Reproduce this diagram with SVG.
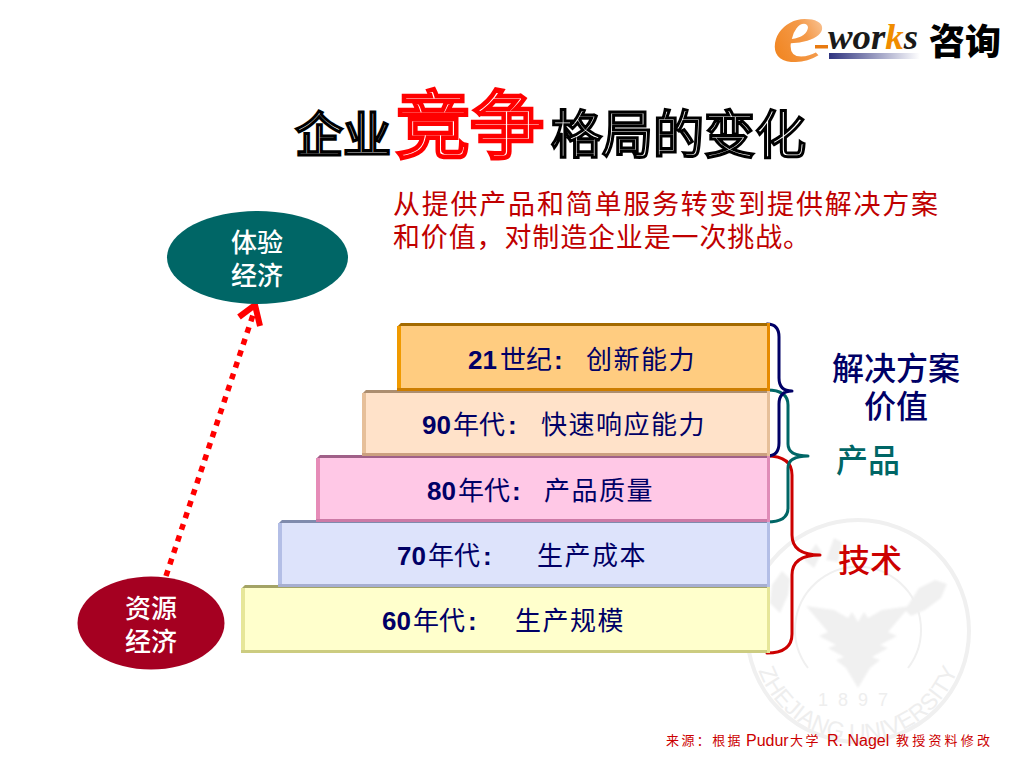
<svg xmlns="http://www.w3.org/2000/svg" width="1024" height="768" viewBox="0 0 1024 768">
<style>
text{font-family:"Noto Sans CJK SC","Liberation Sans",sans-serif}
.lat{font-family:"Liberation Sans",Arial,sans-serif;font-weight:700}
.lab{font-size:26px;fill:#000066;font-weight:400}
.wh{font-size:26px;fill:#fff;text-anchor:middle;font-weight:500}
.brace{fill:none;stroke-width:3;stroke-linecap:round;stroke-linejoin:round}
.seal{fill:none;stroke:#f0f0f0}
.sealt{fill:#eeeeee;font-family:"Liberation Sans",sans-serif}
.big{text-anchor:middle;font-size:32px;font-weight:500}
.src{font-family:"Liberation Sans",sans-serif;font-size:16px}
</style>
<defs>
<linearGradient id="bar" x1="0" x2="1" y1="0" y2="0"><stop offset="0" stop-color="#2f3480"/><stop offset="1" stop-color="#ffffff"/></linearGradient>
<linearGradient id="eg" x1="0" x2="1" y1="1" y2="0"><stop offset="0" stop-color="#f07d10"/><stop offset="0.55" stop-color="#f49a4a"/><stop offset="1" stop-color="#fde8d6"/></linearGradient>
<path id="arc" d="M755 659A106 106 0 0 0 961 659"/>
<filter id="soft" x="-10%" y="-10%" width="120%" height="120%"><feGaussianBlur stdDeviation="1.2"/></filter>
</defs>

<g id="watermark">
<circle class="seal" cx="858" cy="631" r="111" stroke-width="4"/>
<path class="seal" stroke-width="2" d="M808 668A63 63 0 1 1 908 668"/>
<g filter="url(#soft)" fill="#f0f0f0">
<path d="M858 688L846 668L836 660L844 657L828 648L836 645L819 636L828 632L806 606L834 610L848 618L852 612L858 622L864 612L868 618L882 610L910 606L888 632L897 636L880 645L888 648L872 657L880 660L870 668Z"/>
<path d="M772 585l10-14 8 8-2 16-8 18-10-10zM804 560l12-16 6 8-8 16zM826 560l8-22 8 4-4 20zM905 610l14-22 16-8 12 4-6 14-16 12-14 6z"/>
</g>
<text class="sealt" x="858" y="706" font-size="18" text-anchor="middle" letter-spacing="10">1897</text>
<text class="sealt" font-size="23"><textPath href="#arc" startOffset="50%" text-anchor="middle">ZHEJIANG UNIVERSITY</textPath></text>
</g>

<g id="logo">
<text transform="translate(772 61) scale(1.35 1)" font-size="88" font-style="italic" font-weight="700" fill="url(#eg)" style="font-family:'Liberation Serif',serif">e</text>
<rect x="815" y="45" width="13" height="3.5" fill="#e87a10"/>
<text x="828" y="49" font-size="35" font-style="italic" font-weight="700" fill="#1a1a1a" textLength="90" lengthAdjust="spacingAndGlyphs" style="font-family:'Liberation Serif',serif">wor<tspan fill="#f08c00">k</tspan>s</text>
<rect x="829" y="53" width="91" height="6" fill="url(#bar)"/>
<text x="929" y="55" font-size="36" font-weight="900" fill="#000">咨询</text>
</g>

<g id="title" font-weight="400">
<text x="295" y="152" font-size="48" fill="#fff" stroke="#000" stroke-width="3">企业</text>
<text x="396" y="152" font-size="74" fill="#fff" stroke="#ff0000" stroke-width="4.5">竞争</text>
<text x="551" y="153" font-size="51" fill="#fff" stroke="#000" stroke-width="3">格局的变化</text>
</g>

<g id="subtitle" fill="#c00000" font-size="27">
<text x="393" y="214" textLength="545" lengthAdjust="spacing">从提供产品和简单服务转变到提供解决方案</text>
<text x="393" y="247" textLength="417" lengthAdjust="spacing">和价值，对制造企业是一次挑战。</text>
</g>

<g id="connectors">
<path d="M166 576L254 312" fill="none" stroke="#ff0000" stroke-width="5.5" stroke-dasharray="6 6.2"/>
<path d="M239 317L255 305L260 326" fill="none" stroke="#ff0000" stroke-width="6" stroke-linejoin="miter"/>
<path class="brace" stroke="#cc0000" d="M767 456Q792 456 792 475V535Q792 555 820 555Q792 555 792 575V634Q792 653 767 653"/>
<path class="brace" stroke="#006666" d="M767 390Q788 390 788 405V444Q788 456 808 456Q788 456 788 468V508Q788 522 767 522"/>
<path class="brace" stroke="#000066" d="M767 324Q779 324 779 337V378Q779 391 792 391Q779 391 779 404V443Q779 456 767 456"/>
</g>

<g id="step60">
<path d="M241 653V589L245 585H770V653Z" fill="#ffffcc"/>
<path d="M241 589L245 585H770V588H241Z" fill="#a3a366"/>
<rect x="241" y="588" width="4" height="65" fill="#e6e699"/>
<rect x="241" y="650" width="529" height="3" fill="#cccc80"/>
<rect x="767" y="585" width="3" height="68" fill="#e6e699"/>
<text class="lab" x="382" y="630"><tspan class="lat">60</tspan><tspan x="413">年代</tspan><tspan class="lat" x="468">:</tspan><tspan x="515" letter-spacing="1.5">生产规模</tspan></text>
</g>
<g id="step70">
<path d="M278 587V524L282 520H770V587Z" fill="#dde3fb"/>
<path d="M278 524L282 520H770V523H278Z" fill="#7f8bad"/>
<rect x="278" y="523" width="4" height="64" fill="#b3bee6"/>
<rect x="278" y="584" width="492" height="3" fill="#a6aed0"/>
<rect x="767" y="520" width="3" height="67" fill="#b3bee6"/>
<text class="lab" x="397" y="565"><tspan class="lat">70</tspan><tspan x="428">年代</tspan><tspan class="lat" x="483">:</tspan><tspan x="537" letter-spacing="1.5">生产成本</tspan></text>
</g>
<g id="step80">
<path d="M316 522V459L320 455H770V522Z" fill="#ffc8e6"/>
<path d="M316 459L320 455H770V458H316Z" fill="#a06088"/>
<rect x="316" y="458" width="4" height="64" fill="#e68cb8"/>
<rect x="316" y="519" width="454" height="3" fill="#cc7aa6"/>
<rect x="767" y="455" width="3" height="67" fill="#e08cb8"/>
<text class="lab" x="427" y="500"><tspan class="lat">80</tspan><tspan x="458">年代</tspan><tspan class="lat" x="512">:</tspan><tspan x="544" letter-spacing="1.5">产品质量</tspan></text>
</g>
<g id="step90">
<path d="M362 456V394L366 390H770V456Z" fill="#ffe2c9"/>
<path d="M362 394L366 390H770V393H362Z" fill="#ac8e70"/>
<rect x="362" y="393" width="4" height="63" fill="#e6bf99"/>
<rect x="362" y="453" width="408" height="3" fill="#cca080"/>
<rect x="767" y="390" width="3" height="66" fill="#e6bf99"/>
<text class="lab" x="422" y="434"><tspan class="lat">90</tspan><tspan x="453">年代</tspan><tspan class="lat" x="508">:</tspan><tspan x="541" letter-spacing="1.5">快速响应能力</tspan></text>
</g>
<g id="step21">
<path d="M397 391V327L401 323H770V391Z" fill="#ffcc80"/>
<path d="M397 327L401 323H770V326H397Z" fill="#a36a00"/>
<rect x="397" y="326" width="4" height="65" fill="#f09a00"/>
<rect x="397" y="388" width="373" height="3" fill="#cc7d00"/>
<rect x="767" y="323" width="3" height="68" fill="#e68a00"/>
<text class="lab" x="468" y="369"><tspan class="lat">21</tspan><tspan x="500">世纪</tspan><tspan class="lat" x="554">:</tspan><tspan x="586" letter-spacing="1.5">创新能力</tspan></text>
</g>

<g id="node-experience">
<ellipse cx="257.500" cy="257.500" rx="90.500" ry="46.500" fill="#006666"/>
<text class="wh" x="257" y="252">体验</text>
<text class="wh" x="257" y="285">经济</text>
</g>
<g id="node-resource">
<ellipse cx="151" cy="623" rx="73.500" ry="46.500" fill="#a50021"/>
<text class="wh" x="151" y="618">资源</text>
<text class="wh" x="151" y="651">经济</text>
</g>

<g id="labels">
<text class="big" x="896" y="380" fill="#000066">解决方案</text>
<text class="big" x="896" y="418" fill="#000066">价值</text>
<text class="big" x="868" y="472" fill="#006666">产品</text>
<text class="big" x="870" y="572" fill="#cc0000">技术</text>
</g>

<g id="source" fill="#cc0000">
<text x="666" y="745" font-size="13" letter-spacing="2.4">来源：根据</text>
<text class="src" x="746" y="746">Pudur</text>
<text x="790" y="745" font-size="13" letter-spacing="2.4">大学</text>
<text class="src" x="827" y="746">R. Nagel</text>
<text x="896" y="745" font-size="13" letter-spacing="3.2">教授资料修改</text>
</g>
</svg>
